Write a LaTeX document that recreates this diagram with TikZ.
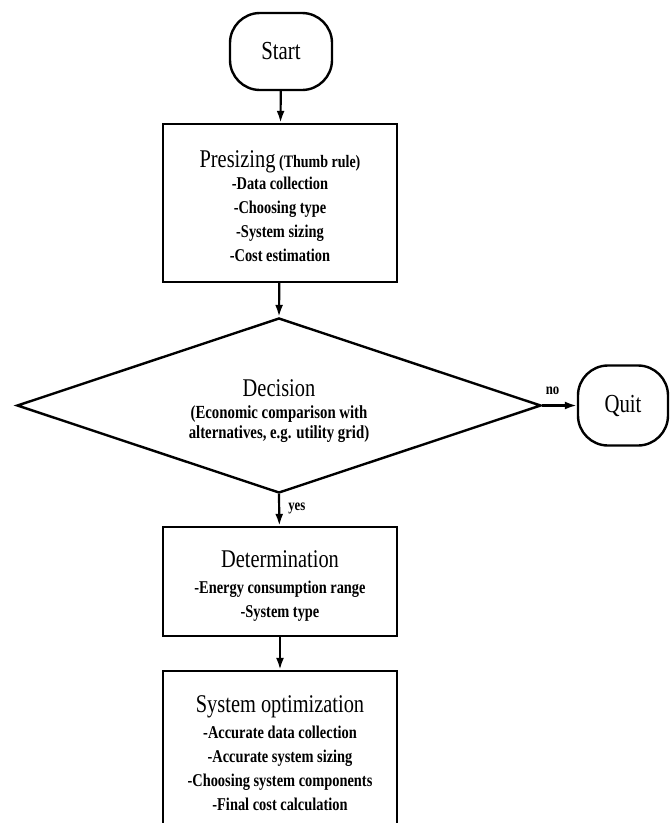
\documentclass[tikz,border=0pt]{standalone}
\usepackage{fontspec}
\setmainfont{Liberation Serif}[FakeStretch=0.8]
\usetikzlibrary{shapes.geometric,arrows.meta}
\newcommand{\ttlf}{\fontsize{25.5}{24}\selectfont\mdseries}
\newcommand{\bodyf}{\fontsize{18}{24}\selectfont\bfseries}
\newcommand{\lift}[1]{\rule{0pt}{#1}}
\begin{document}
\begin{tikzpicture}[x=1pt,y=-1pt,
  box/.style={draw, line width=2.4pt, minimum width=234pt, inner sep=0pt, align=center, font=\bodyf},
  term/.style={draw, line width=2.4pt, rounded corners=30pt, align=center, inner sep=0pt, font=\fontsize{26}{26}\selectfont},
  decis/.style={draw, shape=diamond, aspect=3, line width=2.4pt, minimum width=524pt, minimum height=175pt, inner sep=0pt, align=center, font=\fontsize{18.5}{20}\selectfont\bfseries},
  conn/.style={line width=2.2pt, -{Latex[length=12pt,width=8pt]}},
  lbl/.style={font=\fontsize{16}{16}\selectfont\bfseries, inner sep=0pt}]
\useasboundingbox (0,0) rectangle (672,823);
\clip (0,0) rectangle (672,823);
\fill[white] (0,0) rectangle (672,823);

\node[term, minimum width=102pt, minimum height=77pt] (start) at (281,51.5) {Start};

\node[box, minimum height=158pt] (pre) at (280,203) {\lift{23pt}{\ttlf Presizing} {\fontsize{17.5}{24}\selectfont(Thumb rule)}\\[-2pt]
-Data collection\\ -Choosing type\\ -System sizing\\ -Cost estimation};

\node[decis] (dec) at (279,405.5) {\lift{27.5pt}{\ttlf Decision}\\[2pt]
(Economic comparison with\\ alternatives, e.g. utility grid)};

\node[term, minimum width=90pt, minimum height=80pt] (quit) at (623,405.5) {Quit};

\node[box, minimum height=109pt] (det) at (280,581.5) {\lift{26.5pt}{\ttlf Determination}\\[2pt]
-Energy consumption range\\ -System type};

\node[box, minimum height=165pt] (opt) at (280,753.5) {{\ttlf System optimization}\\[2pt]
-Accurate data collection\\ -Accurate system sizing\\ -Choosing system components\\ -Final cost calculation};

\draw[conn] (start) -- (pre);
\draw[conn] (pre) -- (dec.north);
\draw[conn] (dec.south) -- (det) node[lbl, pos=0.45, right=8pt] {yes};
\draw[conn] (dec.east) -- (quit) node[lbl, pos=0.3, above=10pt] {no};
\draw[conn] (det) -- (opt);
\end{tikzpicture}
\end{document}
